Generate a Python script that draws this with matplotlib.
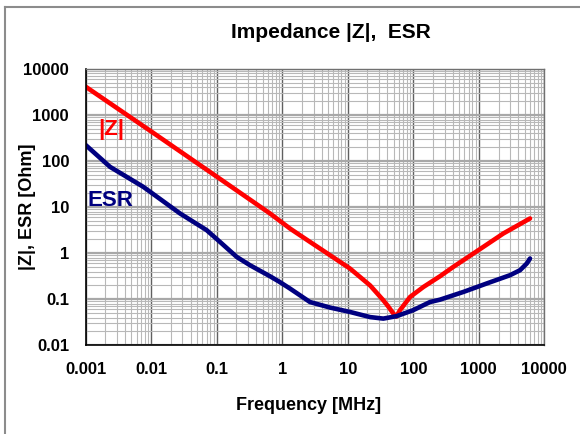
import matplotlib
matplotlib.use("Agg")
import matplotlib.pyplot as plt
from matplotlib.ticker import LogLocator, NullFormatter
from matplotlib.lines import Line2D

plt.rcParams['font.family'] = ['Liberation Sans', 'DejaVu Sans']
plt.rcParams['font.weight'] = 'bold'

# |Z| curve (MHz, Ohm)
z_freq = [0.001, 0.01, 0.1, 0.65, 1.31, 2.65, 5.36, 10.8, 21.9, 34.9,
          41.4, 49.6, 55.0, 62.8, 89.3, 143, 256, 408, 984, 2370, 6050]
z_ohm = [4120, 440, 46, 7.3, 3.44, 1.76, 0.905, 0.465, 0.20, 0.095,
         0.070, 0.049, 0.042, 0.058, 0.112, 0.185, 0.316, 0.504, 1.16, 2.68, 5.68]

# ESR curve (MHz, Ohm)
esr_freq = [0.001, 0.00235, 0.00757, 0.0275, 0.0703, 0.112, 0.202, 0.322,
            0.65, 0.925, 1.31, 2.65, 5.36, 10.8, 21.9, 34.9, 55.8, 100,
            180, 256, 581, 1320, 3000, 4260, 5400, 6050]
esr_ohm = [223, 75, 27.6, 7.3, 3.16, 1.76, 0.83, 0.548,
           0.316, 0.235, 0.171, 0.087, 0.066, 0.053, 0.041, 0.038, 0.043, 0.058,
           0.087, 0.098, 0.144, 0.22, 0.333, 0.427, 0.597, 0.767]

x_ticks = [0.001, 0.01, 0.1, 1, 10, 100, 1000, 10000]
x_labels = ['0.001', '0.01', '0.1', '1', '10', '100', '1000', '10000']
y_ticks = [0.01, 0.1, 1, 10, 100, 1000, 10000]
y_labels = ['0.01', '0.1', '1', '10', '100', '1000', '10000']

W, H = 580, 434
fig = plt.figure(figsize=(W / 100, H / 100), dpi=100)

# chart area border (left and top edges visible)
fig.add_artist(Line2D([4.5 / W, 4.5 / W], [0, 1 - 6.5 / H], color='#8c8c8c', lw=1.5))
fig.add_artist(Line2D([4.5 / W, 1], [1 - 6.5 / H, 1 - 6.5 / H], color='#8c8c8c', lw=1.5))

ax = fig.add_axes([85.7 / W, 1 - 345.3 / H, (544.3 - 85.7) / W, (345.3 - 69) / H])
ax.set_xscale('log')
ax.set_yscale('log')
ax.set_xlim(0.001, 10000)
ax.set_ylim(0.01, 10000)

ax.set_xticks(x_ticks, x_labels, fontsize=12, fontweight='bold')
ax.set_yticks(y_ticks, y_labels, fontsize=12, fontweight='bold')
ax.xaxis.set_minor_locator(LogLocator(base=10, subs=range(2, 10), numticks=100))
ax.yaxis.set_minor_locator(LogLocator(base=10, subs=range(2, 10), numticks=100))
ax.xaxis.set_minor_formatter(NullFormatter())
ax.yaxis.set_minor_formatter(NullFormatter())

ax.grid(True, which='minor', axis='both', color='#b8b8b8', lw=0.8)
ax.grid(True, which='major', axis='x', color='#606060', lw=1.0)
ax.grid(True, which='major', axis='y', color='#a8a8a8', lw=1.6)
ax.set_axisbelow(True)

ax.tick_params(which='both', length=0)
ax.tick_params(axis='both', pad=12)

for side in ['left', 'bottom']:
    ax.spines[side].set_color('black')
    ax.spines[side].set_linewidth(1.2)
for side in ['top', 'right']:
    ax.spines[side].set_color('#707070')
    ax.spines[side].set_linewidth(1.0)

ax.plot(z_freq, z_ohm, color='#ff0000', lw=3.3, solid_capstyle='round', solid_joinstyle='round')
ax.plot(esr_freq, esr_ohm, color='#000080', lw=3.3, solid_capstyle='round', solid_joinstyle='round')

fig.text(111 / W, 1 - 130 / H, '|Z|', color='#ff0000', fontsize=16, fontweight='bold',
         ha='center', va='center')
fig.text(110 / W, 1 - 200 / H, 'ESR', color='#000080', fontsize=16, fontweight='bold',
         ha='center', va='center')

fig.text(331 / W, 1 - 33 / H, 'Impedance |Z|,  ESR', fontsize=15, fontweight='bold',
         ha='center', va='center')
fig.text(309 / W, 1 - 405 / H, 'Frequency [MHz]', fontsize=13, fontweight='bold',
         ha='center', va='center')
fig.text(28 / W, 1 - 207 / H, '|Z|, ESR [Ohm]', fontsize=13, fontweight='bold',
         ha='center', va='center', rotation=90)

fig.savefig('out.png', dpi=100)
